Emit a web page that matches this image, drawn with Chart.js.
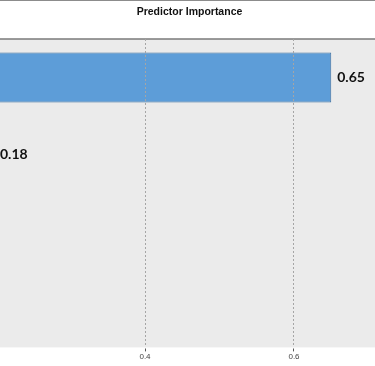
<!DOCTYPE html>
<html>
<head>
<meta charset="utf-8">
<script src="https://cdn.jsdelivr.net/npm/chart.js@4.4.1/dist/chart.umd.min.js"></script>
<style>
  html, body { margin: 0; padding: 0; background: #fff; overflow: hidden; }
  body { width: 375px; height: 366px; position: relative; }
  /* the chart is wider than the window and shifted left, like the cropped original */
  #wrap { position: absolute; left: -170px; top: 0; width: 620px; height: 366px; }
</style>
</head>
<body>
<div id="wrap"><canvas id="imp"></canvas></div>
<script>
// Data
const predictors = ['Predictor 1', 'Predictor 2', 'Predictor 3', 'Predictor 4'];
const importance = [0.65, 0.18, 0.10, 0.07];
const xTicks = [0.4, 0.6];
const chartTitle = 'Predictor Importance';

const SHIFT = 170; // canvas px hidden left of the window
const VIEW_W = 375;

// grey plot background, dark top frame line and the title
const frame = {
  id: 'frame',
  beforeDraw(chart) {
    const { ctx, chartArea: { top, bottom, left, right } } = chart;
    ctx.save();
    ctx.fillStyle = '#ebebeb';
    ctx.fillRect(left, top, right - left, bottom - top);
    ctx.strokeStyle = '#7a7a7a';
    ctx.lineWidth = 1.5;
    ctx.beginPath();
    ctx.moveTo(left, top);
    ctx.lineTo(chart.width, top);
    ctx.stroke();

    ctx.font = 'bold 10.5px "Liberation Sans"';
    ctx.fillStyle = '#111';
    ctx.textAlign = 'center';
    ctx.textBaseline = 'middle';
    ctx.fillText(chartTitle, SHIFT + VIEW_W / 2 + 2, 12);
    ctx.restore();
  }
};

// value labels to the right of each bar
const valueLabels = {
  id: 'valueLabels',
  afterDatasetsDraw(chart) {
    const { ctx } = chart;
    const meta = chart.getDatasetMeta(0);
    ctx.save();
    ctx.font = 'bold 14px Lato';
    ctx.fillStyle = '#111';
    ctx.textBaseline = 'middle';
    meta.data.forEach((bar, i) => {
      const txt = importance[i].toFixed(2);
      const w = ctx.measureText(txt).width;
      let x = bar.x + 6;
      // keep a partly hidden label readable at the window edge
      if (x < SHIFT && x + w > SHIFT) x = SHIFT;
      ctx.fillText(txt, x, bar.y);
    });
    ctx.restore();
  }
};

new Chart(document.getElementById('imp'), {
  type: 'bar',
  data: {
    labels: predictors,
    datasets: [{
      data: importance,
      backgroundColor: '#5d9dd8',
      borderColor: '#3f6f9f',
      borderWidth: 1,
      categoryPercentage: 1,
      barPercentage: 0.65
    }]
  },
  options: {
    indexAxis: 'y',
    responsive: true,
    maintainAspectRatio: false,
    animation: false,
    layout: { padding: { left: 17, right: 7, top: 39, bottom: 3 } },
    scales: {
      x: {
        min: 0,
        max: 0.8,
        afterBuildTicks(axis) { axis.ticks = xTicks.map(v => ({ value: v })); },
        ticks: {
          color: '#444',
          font: { family: 'Liberation Sans', size: 8 },
          padding: 1,
          maxRotation: 0,
          callback: v => String(v)
        },
        grid: {
          color: '#a5a5a5',
          lineWidth: 1,
          tickLength: 4,
          tickColor: '#555',
          z: 1
        },
        border: { color: '#666', width: 1.5, dash: [2, 2] }
      },
      y: { display: false }
    },
    plugins: {
      legend: { display: false },
      tooltip: { enabled: false },
      title: { display: false }
    }
  },
  plugins: [frame, valueLabels]
});
</script>
</body>
</html>
